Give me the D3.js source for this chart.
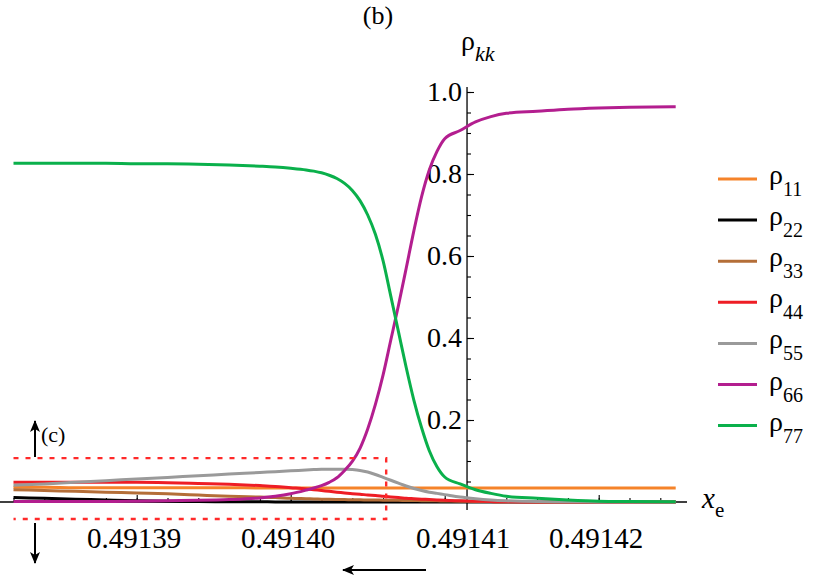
<!DOCTYPE html>
<html>
<head>
<meta charset="utf-8">
<script src="https://cdn.jsdelivr.net/npm/d3@7/dist/d3.min.js"></script>
<style>
	body { margin: 0; background: #fff; }
	svg { display: block; }
</style>
</head>
<body>
<svg id="viz" width="817" height="579"></svg>
<script>

// x_e sample points shared by every curve
var xe = [
	0.491382, 0.491384, 0.491386, 0.491388, 0.491390, 0.491392, 0.491394, 0.491396,
	0.491398, 0.491399, 0.491400, 0.491401, 0.4914015, 0.491402, 0.4914025, 0.491403,
	0.4914035, 0.491404, 0.4914045, 0.491405, 0.4914055, 0.491406, 0.4914065, 0.491407,
	0.4914075, 0.491408, 0.4914085, 0.491409, 0.4914095, 0.491410, 0.491411, 0.491412,
	0.491413, 0.491414, 0.491416, 0.491418, 0.491420, 0.491422, 0.491425
];

var rho11 = [
	0.036, 0.036, 0.035, 0.035, 0.035, 0.035, 0.035, 0.035,
	0.034, 0.034, 0.034, 0.034, 0.034, 0.034, 0.034, 0.034,
	0.034, 0.034, 0.034, 0.034, 0.034, 0.034, 0.034, 0.034,
	0.034, 0.034, 0.034, 0.034, 0.034, 0.034, 0.034, 0.034,
	0.034, 0.034, 0.034, 0.034, 0.034, 0.034, 0.034
];
var rho22 = [
	0.011, 0.009, 0.007, 0.005, 0.003, 0.002, 0.001, 0.0006,
	0.0004, 0.0003, 0.0002, 0.0002, 0.0001, 0.0001, 0.0001, 0.0001,
	0, 0, 0, 0, 0, 0, 0, 0,
	0, 0, 0, 0, 0, 0, 0, 0,
	0, 0, 0, 0, 0, 0, 0
];
var rho33 = [
	0.030, 0.028, 0.026, 0.024, 0.022, 0.020, 0.017, 0.014,
	0.012, 0.011, 0.009, 0.008, 0.0075, 0.007, 0.0065, 0.006,
	0.0058, 0.0055, 0.0052, 0.005, 0.0048, 0.0045, 0.0043, 0.004,
	0.0038, 0.0035, 0.0033, 0.003, 0.0028, 0.0025, 0.002, 0.0015,
	0.001, 0.0006, 0.0003, 0.0001, 0, 0, 0
];
var rho44 = [
	0.048, 0.048, 0.048, 0.048, 0.048, 0.047, 0.045, 0.043,
	0.040, 0.038, 0.035, 0.032, 0.030, 0.028, 0.026, 0.024,
	0.022, 0.020, 0.019, 0.017, 0.016, 0.014, 0.012, 0.011,
	0.009, 0.008, 0.007, 0.006, 0.005, 0.004, 0.003, 0.002,
	0.001, 0.0005, 0.0002, 0, 0, 0, 0
];
var rho55 = [
	0.041, 0.044, 0.048, 0.052, 0.056, 0.060, 0.064, 0.068,
	0.072, 0.074, 0.076, 0.078, 0.079, 0.080, 0.080, 0.080,
	0.080, 0.079, 0.077, 0.073, 0.067, 0.060, 0.053, 0.046,
	0.039, 0.033, 0.028, 0.024, 0.021, 0.018, 0.012, 0.008,
	0.005, 0.003, 0.001, 0.0005, 0.0002, 0, 0
];
var rho66 = [
	0.001, 0.001, 0.001, 0.001, 0.002, 0.003, 0.004, 0.006,
	0.010, 0.014, 0.020, 0.029, 0.034, 0.040, 0.048, 0.059,
	0.077, 0.099, 0.131, 0.178, 0.238, 0.310, 0.395, 0.480,
	0.570, 0.662, 0.745, 0.810, 0.855, 0.886, 0.906, 0.927,
	0.940, 0.948, 0.953, 0.958, 0.961, 0.963, 0.964
];
var rho77 = [
	0.826, 0.826, 0.826, 0.826, 0.825, 0.825, 0.824, 0.822,
	0.819, 0.817, 0.814, 0.810, 0.807, 0.803, 0.797, 0.789,
	0.777, 0.760, 0.735, 0.700, 0.653, 0.588, 0.502, 0.415,
	0.328, 0.248, 0.181, 0.125, 0.086, 0.061, 0.044, 0.030,
	0.021, 0.014, 0.009, 0.005, 0.002, 0.001, 0.0004
];

var seriesNames = [ '11', '22', '33', '44', '55', '66', '77' ];
var seriesValues = [ rho11, rho22, rho33, rho44, rho55, rho66, rho77 ];
var seriesColors = [ '#f5832a', '#000000', '#b46e38', '#ee1d25', '#9a9a9a', '#b31e8f', '#0ab04b' ];

var xMajorTicks = [ 0.49139, 0.49140, 0.49141, 0.49142 ];
var xTickLabels = [ '0.49139', '0.49140', '0.49141', '0.49142' ];
var yMajorTicks = [ 0.2, 0.4, 0.6, 0.8, 1.0 ];
var yTickLabels = [ '0.2', '0.4', '0.6', '0.8', '1.0' ];

var serif = '"Liberation Serif", "Times New Roman", serif';


var svg = d3.select( '#viz' );

var xScale = d3.scaleLinear()
	.domain( [ 0.491382, 0.491425 ] )
	.range( [ 13.5, 675.7 ] );

var yScale = d3.scaleLinear()
	.domain( [ 0, 1 ] )
	.range( [ 502, 92 ] );

var xOrigin = 0.49141145;

// x axis, ticks pointing up, labels below
var xMinor = d3.range( 0, 22 ).map( function ( i ) { return 0.491382 + i * 0.000002; } );

svg.append( 'line' )
	.attr( 'x1', 0 ).attr( 'x2', 687 )
	.attr( 'y1', yScale( 0 ) ).attr( 'y2', yScale( 0 ) )
	.attr( 'stroke', '#000' ).attr( 'stroke-width', 1.3 );

svg.append( 'g' )
	.attr( 'transform', 'translate(0,' + yScale( 0 ) + ')' )
	.call( d3.axisBottom( xScale ).tickValues( xMinor ).tickSize( -4 ).tickFormat( '' ) )
	.call( function ( g ) { g.select( '.domain' ).remove(); } )
	.selectAll( 'line' ).attr( 'stroke-width', 1.1 );

var xAxisG = svg.append( 'g' )
	.attr( 'transform', 'translate(0,' + yScale( 0 ) + ')' )
	.call( d3.axisBottom( xScale )
		.tickValues( xMajorTicks )
		.tickSize( -7 )
		.tickPadding( 25 )
		.tickFormat( function ( d, i ) { return xTickLabels[i]; } ) );
xAxisG.select( '.domain' ).remove();
xAxisG.selectAll( 'line' ).attr( 'stroke-width', 1.1 );
xAxisG.selectAll( 'text' )
	.style( 'font-family', serif )
	.style( 'font-size', '29px' )
	.attr( 'dx', function ( d ) { return d === 0.49141 ? 18 : -3; } );

// y axis, ticks pointing right, labels left
var yMinor = d3.range( 1, 21 ).map( function ( i ) { return i * 0.05; } );

svg.append( 'line' )
	.attr( 'x1', xScale( xOrigin ) ).attr( 'x2', xScale( xOrigin ) )
	.attr( 'y1', 510 ).attr( 'y2', yScale( 1.012 ) )
	.attr( 'stroke', '#000' ).attr( 'stroke-width', 1.3 );

svg.append( 'g' )
	.attr( 'transform', 'translate(' + xScale( xOrigin ) + ',0)' )
	.call( d3.axisLeft( yScale ).tickValues( yMinor ).tickSize( -4 ).tickFormat( '' ) )
	.call( function ( g ) { g.select( '.domain' ).remove(); } )
	.selectAll( 'line' ).attr( 'stroke-width', 1.1 );

var yAxisG = svg.append( 'g' )
	.attr( 'transform', 'translate(' + xScale( xOrigin ) + ',0)' )
	.call( d3.axisLeft( yScale )
		.tickValues( yMajorTicks )
		.tickSize( -7 )
		.tickPadding( 5 )
		.tickFormat( function ( d, i ) { return yTickLabels[i]; } ) );
yAxisG.select( '.domain' ).remove();
yAxisG.selectAll( 'line' ).attr( 'stroke-width', 1.1 );
yAxisG.selectAll( 'text' )
	.style( 'font-family', serif )
	.style( 'font-size', '28px' );

// curves
var line = d3.line()
	.x( function ( d ) { return xScale( d[0] ); } )
	.y( function ( d ) { return yScale( d[1] ); } )
	.curve( d3.curveMonotoneX );

svg.append( 'g' ).selectAll( 'path' )
	.data( seriesValues )
	.enter()
	.append( 'path' )
	.attr( 'd', function ( vals ) {
		return line( xe.map( function ( x, i ) { return [ x, vals[i] ]; } ) );
	} )
	.attr( 'fill', 'none' )
	.attr( 'stroke', function ( d, i ) { return seriesColors[i]; } )
	.attr( 'stroke-width', 3 );

// dashed box marking region (c)
var box = { x0: 0.491382, x1: 0.4914062, y0: -0.0415, y1: 0.107 };
svg.append( 'path' )
	.attr( 'd', 'M' + xScale( box.x0 ) + ',' + yScale( box.y1 ) +
		'H' + xScale( box.x1 ) + 'V' + yScale( box.y0 ) + 'H' + xScale( box.x0 ) )
	.attr( 'fill', 'none' )
	.attr( 'stroke', '#ff2a2a' )
	.attr( 'stroke-width', 2.4 )
	.attr( 'stroke-dasharray', '5,7' );

// arrows
svg.append( 'defs' ).append( 'marker' )
	.attr( 'id', 'head' )
	.attr( 'viewBox', '-12 -6 14 12' )
	.attr( 'refX', 0 ).attr( 'refY', 0 )
	.attr( 'markerWidth', 14 ).attr( 'markerHeight', 12 )
	.attr( 'markerUnits', 'userSpaceOnUse' )
	.attr( 'orient', 'auto' )
	.append( 'path' )
	.attr( 'd', 'M1,0 L-11,-5 L-8,0 L-11,5 Z' )
	.attr( 'fill', '#000' );

var arrows = [
	[ 35, 457, 35, 421 ],
	[ 35, 523, 35, 563 ],
	[ 426, 570, 343, 570 ]
];
svg.append( 'g' ).selectAll( 'line' )
	.data( arrows )
	.enter()
	.append( 'line' )
	.attr( 'x1', function ( d ) { return d[0]; } )
	.attr( 'y1', function ( d ) { return d[1]; } )
	.attr( 'x2', function ( d ) { return d[2]; } )
	.attr( 'y2', function ( d ) { return d[3]; } )
	.attr( 'stroke', '#000' )
	.attr( 'stroke-width', 2 )
	.attr( 'marker-end', 'url(#head)' );

svg.append( 'text' )
	.attr( 'x', 41 ).attr( 'y', 442 )
	.style( 'font-family', serif )
	.style( 'font-size', '22px' )
	.text( '(c)' );

// titles and axis labels
svg.append( 'text' )
	.attr( 'x', 378 ).attr( 'y', 24 )
	.attr( 'text-anchor', 'middle' )
	.style( 'font-family', serif )
	.style( 'font-size', '26px' )
	.text( '(b)' );

var yLab = svg.append( 'text' ).attr( 'x', 461 ).attr( 'y', 50 ).style( 'font-family', serif );
yLab.append( 'tspan' ).style( 'font-size', '28px' ).text( 'ρ' );
yLab.append( 'tspan' ).attr( 'dy', 11 ).style( 'font-size', '22px' ).style( 'font-style', 'italic' ).text( 'kk' );

var xLab = svg.append( 'text' ).attr( 'x', 702 ).attr( 'y', 508 ).style( 'font-family', serif );
xLab.append( 'tspan' ).style( 'font-size', '29px' ).style( 'font-style', 'italic' ).text( 'x' );
xLab.append( 'tspan' ).attr( 'dy', 9 ).style( 'font-size', '21px' ).text( 'e' );

// legend
var legend = svg.append( 'g' ).selectAll( 'g' )
	.data( seriesNames )
	.enter()
	.append( 'g' )
	.attr( 'transform', function ( d, i ) { return 'translate(0,' + ( 179 + i * 41.1 ) + ')'; } );

legend.append( 'line' )
	.attr( 'x1', 718 ).attr( 'x2', 757 )
	.attr( 'y1', 0 ).attr( 'y2', 0 )
	.attr( 'stroke', function ( d, i ) { return seriesColors[i]; } )
	.attr( 'stroke-width', 3 );

var legText = legend.append( 'text' ).attr( 'x', 769 ).attr( 'y', 5 ).style( 'font-family', serif );
legText.append( 'tspan' ).style( 'font-size', '28px' ).text( 'ρ' );
legText.append( 'tspan' ).attr( 'dy', 12 ).style( 'font-size', '20px' ).text( function ( d ) { return d; } );

</script>
</body>
</html>
